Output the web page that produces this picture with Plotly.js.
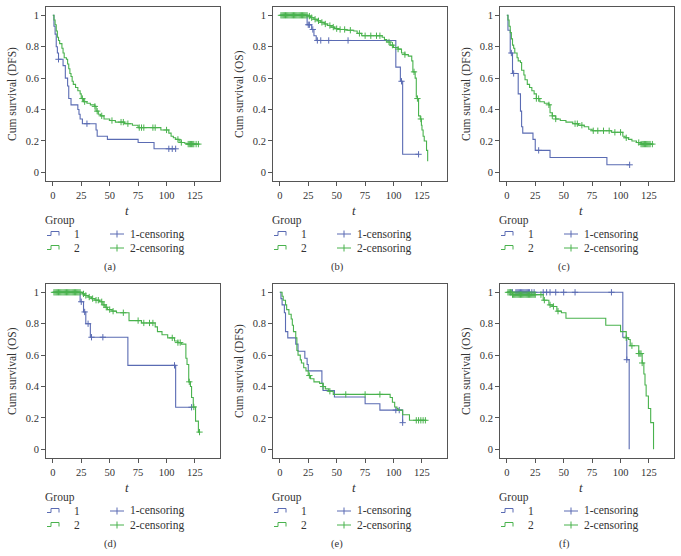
<!DOCTYPE html>
<html><head><meta charset="utf-8">
<script src="https://cdn.plot.ly/plotly-3.0.1.min.js"></script>
<style>html,body{margin:0;padding:0;background:#fff}</style>
</head><body><div id="chart" style="width:681px;height:556px"></div>
<script>
// ---------- DATA ----------
const xTicks = [0, 25, 50, 75, 100, 125];
const yTicks = [0, 0.2, 0.4, 0.6, 0.8, 1];
const groupNames = ["1", "2"];
const censorNames = ["1-censoring", "2-censoring"];
const panelLabels = ["(a)", "(b)", "(c)", "(d)", "(e)", "(f)"];
const yTitles = ["Cum survival (DFS)", "Cum survival (OS)", "Cum survival (DFS)",
                 "Cum survival (OS)", "Cum survival (DFS)", "Cum survival (OS)"];

// panel (a)
const a1_t = [0, 1, 2, 3, 4, 5, 9, 11, 13, 14, 16, 22, 23, 24, 26, 38, 39, 48, 75, 89, 108];
const a1_s = [1, 0.93, 0.88, 0.80, 0.76, 0.72, 0.68, 0.60, 0.55, 0.47, 0.43, 0.40, 0.37, 0.34, 0.31, 0.27, 0.23, 0.21, 0.19, 0.15, 0.15];
const a1_c = [5, 30, 102, 105, 108];
const a2_t = [0, 1, 2, 3, 4, 5, 6, 8, 9, 10, 12, 13, 14, 15, 16, 17, 18, 20, 22, 24, 25, 27, 30, 33, 37, 38, 40, 42, 45, 50, 55, 63, 70, 75, 95, 102, 104, 106, 108, 111, 113, 116, 118, 129];
const a2_s = [1, 0.97, 0.94, 0.90, 0.86, 0.84, 0.82, 0.79, 0.76, 0.73, 0.72, 0.69, 0.66, 0.63, 0.61, 0.58, 0.56, 0.54, 0.52, 0.50, 0.47, 0.45, 0.44, 0.43, 0.42, 0.39, 0.37, 0.36, 0.34, 0.33, 0.32, 0.31, 0.30, 0.285, 0.27, 0.25, 0.23, 0.22, 0.21, 0.20, 0.19, 0.185, 0.18, 0.18];
const a2_c = [26, 28, 37, 39, 43, 52, 60, 62, 66, 76, 78, 80, 88, 90, 100, 110, 113, 119, 120, 121, 122, 123, 124, 126, 128];

// panel (b)
const b1_t = [0, 24, 28, 30, 32, 102, 106, 108, 122];
const b1_s = [1, 0.94, 0.91, 0.87, 0.84, 0.67, 0.58, 0.115, 0.115];
const b1_c = [25, 26, 29, 33, 36, 43, 60, 107, 122];
const b2_t = [0, 25, 27, 30, 33, 36, 39, 42, 45, 48, 52, 58, 65, 68, 72, 90, 92, 94, 97, 100, 104, 107, 110, 113, 116, 117, 119, 120, 121, 122, 123.5, 124.5, 125, 126, 127, 129, 130];
const b2_s = [1, 0.995, 0.985, 0.975, 0.965, 0.955, 0.945, 0.935, 0.925, 0.915, 0.91, 0.905, 0.90, 0.885, 0.87, 0.86, 0.845, 0.83, 0.81, 0.795, 0.785, 0.76, 0.75, 0.74, 0.71, 0.64, 0.60, 0.48, 0.47, 0.36, 0.34, 0.30, 0.27, 0.23, 0.20, 0.14, 0.07];
const b2_c = [1, 2, 3, 4, 5, 6, 7, 8, 9, 10, 11, 12, 13, 14, 15, 16, 17, 18, 19, 20, 21, 22, 23, 24, 26, 28, 31, 34, 37, 40, 44, 47, 50, 53, 57, 62, 70, 75, 80, 85, 88, 96, 99, 104, 110, 118, 121, 124];

// panel (c)
const c1_t = [0, 1, 3, 5, 10, 12, 13, 14, 23, 25, 38, 88, 108];
const c1_s = [1, 0.905, 0.76, 0.63, 0.50, 0.39, 0.29, 0.25, 0.21, 0.14, 0.095, 0.048, 0.048];
const c1_c = [4, 6, 28, 108];
const c2_t = [0, 1, 2, 3, 4, 5, 6, 7, 9, 10, 12, 13, 15, 16, 18, 20, 22, 24, 26, 29, 33, 37, 38, 40, 43, 47, 52, 58, 63, 68, 72, 75, 92, 102, 104, 107, 110, 114, 118, 129];
const c2_s = [1, 0.97, 0.93, 0.89, 0.85, 0.81, 0.79, 0.76, 0.73, 0.71, 0.70, 0.65, 0.62, 0.59, 0.56, 0.54, 0.52, 0.50, 0.47, 0.45, 0.44, 0.43, 0.38, 0.36, 0.34, 0.33, 0.32, 0.31, 0.30, 0.29, 0.275, 0.265, 0.255, 0.23, 0.22, 0.21, 0.20, 0.19, 0.18, 0.18];
const c2_c = [26, 28, 37, 40, 43, 60, 62, 66, 76, 80, 85, 90, 95, 100, 105, 116, 118, 119, 120, 121, 122, 123, 124, 125, 126, 128];

// panel (d)
const d1_t = [0, 24, 27, 29, 33, 66, 108, 122];
const d1_s = [1, 0.94, 0.875, 0.80, 0.714, 0.535, 0.268, 0.268];
const d1_c = [25, 28, 31, 34, 44, 107, 122];
const d2_t = [0, 26, 28, 31, 34, 37, 41, 44, 46, 48, 52, 56, 67, 78, 90, 92, 96, 101, 107, 110, 113, 117, 118, 119.5, 121, 122, 123.5, 125.5, 128, 129.5];
const d2_s = [1, 0.99, 0.98, 0.97, 0.96, 0.95, 0.94, 0.92, 0.905, 0.89, 0.88, 0.87, 0.82, 0.805, 0.78, 0.75, 0.73, 0.71, 0.69, 0.68, 0.67, 0.58, 0.54, 0.43, 0.40, 0.33, 0.27, 0.18, 0.11, 0.11];
const d2_c = [1, 2, 3, 4, 5, 6, 7, 8, 9, 10, 11, 12, 13, 14, 15, 16, 17, 18, 19, 20, 21, 22, 23, 24, 27, 29, 32, 35, 38, 40, 43, 45, 47, 50, 53, 62, 75, 80, 85, 88, 105, 110, 112, 120, 124, 129];

// panel (e)
const e1_t = [0, 1, 2, 4, 5, 7, 14, 16, 22, 24, 25, 37, 38, 48, 75, 88, 108];
const e1_s = [1, 0.96, 0.92, 0.87, 0.75, 0.71, 0.67, 0.625, 0.58, 0.54, 0.50, 0.42, 0.375, 0.333, 0.29, 0.25, 0.17];
const e1_c = [102, 105, 108];
const e2_t = [0, 2, 3, 5, 6, 8, 10, 11, 12, 14, 15, 16, 18, 19, 21, 23, 25, 27, 30, 35, 38, 40, 43, 47, 97, 99, 101, 103, 104, 108, 114, 129];
const e2_s = [1, 0.975, 0.95, 0.92, 0.89, 0.86, 0.83, 0.79, 0.75, 0.71, 0.63, 0.60, 0.57, 0.55, 0.52, 0.50, 0.47, 0.45, 0.43, 0.42, 0.40, 0.385, 0.37, 0.35, 0.33, 0.30, 0.27, 0.26, 0.25, 0.22, 0.185, 0.185];
const e2_c = [26, 38, 44, 58, 75, 88, 120, 122, 124, 126, 128];

// panel (f)
const f1_t = [0, 102, 105.5, 107.6];
const f1_s = [1, 0.714, 0.571, 0];
const f1_c = [3, 5, 8, 9, 10, 11, 12, 13, 14, 15, 16, 17, 18, 19, 20, 22, 24, 32, 35, 38, 43, 50, 60, 92, 105.5];
const f2_t = [0, 5, 32, 37, 40, 44, 48, 52, 87, 100, 105, 107, 108.5, 116, 119, 120.5, 121.5, 122.5, 124.5, 126.5, 129];
const f2_s = [1, 0.985, 0.95, 0.92, 0.91, 0.88, 0.87, 0.835, 0.79, 0.75, 0.71, 0.70, 0.66, 0.61, 0.55, 0.48, 0.41, 0.34, 0.26, 0.17, 0];
const f2_c = [1, 2, 3, 4, 5, 6, 7, 8, 9, 10, 11, 12, 13, 14, 15, 16, 17, 18, 19, 20, 21, 22, 23, 24, 25, 30, 33, 38, 41, 45, 105, 110, 116, 117, 118, 119];

// ---------- STYLE / LAYOUT ----------
const W = 681, H = 556;
const BLUE = "#5a6bb3", GREEN = "#49b24d", TXT = "#333333", AX = "#555555";
const FONT = "Liberation Serif, Times New Roman, serif";
const series = [
  [[a1_t, a1_s, a1_c], [a2_t, a2_s, a2_c]],
  [[b1_t, b1_s, b1_c], [b2_t, b2_s, b2_c]],
  [[c1_t, c1_s, c1_c], [c2_t, c2_s, c2_c]],
  [[d1_t, d1_s, d1_c], [d2_t, d2_s, d2_c]],
  [[e1_t, e1_s, e1_c], [e2_t, e2_s, e2_c]],
  [[f1_t, f1_s, f1_c], [f2_t, f2_s, f2_c]]
];
const colors = [BLUE, GREEN];
const lefts = [46, 273, 500];
const tops = [7, 284];
const FW = 174, FH = 174;

const px = x => x / W;
const py = y => 1 - y / H;
function stepAt(t, ts, ss) {
  let v = ss[0];
  for (let i = 0; i < ts.length; i++) { if (ts[i] <= t) v = ss[i]; }
  return v;
}

const traces = [];
const layout = {
  width: W, height: H, margin: {l: 0, r: 0, t: 0, b: 0},
  paper_bgcolor: "#fff", plot_bgcolor: "#fff", showlegend: false,
  font: {family: FONT, color: TXT, size: 11},
  annotations: [], shapes: []
};

for (let p = 0; p < 6; p++) {
  const L = lefts[p % 3], T = tops[Math.floor(p / 3)];
  const n = p === 0 ? "" : String(p + 1);
  const xa = "xaxis" + n, ya = "yaxis" + n;
  const common = {
    showline: true, mirror: true, linecolor: AX, linewidth: 1,
    ticks: "outside", ticklen: 4, tickcolor: AX, tickwidth: 1,
    showgrid: false, zeroline: false, fixedrange: true,
    tickfont: {family: FONT, size: 10.5, color: TXT}
  };
  layout[xa] = Object.assign({}, common, {
    domain: [px(L), px(L + FW)], range: [-6, 147], tickvals: xTicks,
    anchor: "y" + n
  });
  layout[ya] = Object.assign({}, common, {
    domain: [py(T + FH), py(T)], range: [-0.055, 1.053], tickvals: yTicks,
    ticktext: yTicks.map(v => String(v)), anchor: "x" + n
  });
  for (let g = 0; g < 2; g++) {
    const [ts, ss, cs] = series[p][g];
    traces.push({x: ts, y: ss, xaxis: "x" + n, yaxis: "y" + n, type: "scatter",
      mode: "lines", line: {shape: "hv", color: colors[g], width: 1.1}, hoverinfo: "skip"});
    traces.push({x: cs, y: cs.map(t => stepAt(t, ts, ss)), xaxis: "x" + n, yaxis: "y" + n,
      type: "scatter", mode: "markers", hoverinfo: "skip",
      marker: {symbol: "cross-thin", size: 4.5, color: colors[g], line: {width: 1, color: colors[g]}}});
  }
  // y title
  layout.annotations.push({xref: "paper", yref: "paper", x: px(L - 34), y: py(T + FH / 2),
    text: yTitles[p], textangle: -90, showarrow: false, xanchor: "center", yanchor: "middle",
    font: {family: FONT, size: 11.5, color: TXT}});
  // x title
  layout.annotations.push({xref: "paper", yref: "paper", x: px(L + 81), y: py(T + 203),
    text: "<i>t</i>", showarrow: false, xanchor: "center", yanchor: "middle",
    font: {family: FONT, size: 13, color: TXT}});
  // caption
  layout.annotations.push({xref: "paper", yref: "paper", x: px(L + 64), y: py(T + 260),
    text: panelLabels[p], showarrow: false, xanchor: "center", yanchor: "middle",
    font: {family: FONT, size: 10.5, color: TXT}});
  // legend
  const gy = T + 213;
  layout.annotations.push({xref: "paper", yref: "paper", x: px(L - 3), y: py(gy),
    text: "Group", showarrow: false, xanchor: "left", yanchor: "middle",
    font: {family: FONT, size: 11.5, color: TXT}});
  for (let g = 0; g < 2; g++) {
    const ry = T + 227 + g * 14;
    const x0 = L + 1;
    layout.shapes.push({type: "path", xref: "paper", yref: "paper",
      path: `M ${px(x0)} ${py(ry + 1.5)} L ${px(x0 + 4)} ${py(ry + 1.5)} L ${px(x0 + 4)} ${py(ry - 2.5)} L ${px(x0 + 12)} ${py(ry - 2.5)} L ${px(x0 + 12)} ${py(ry + 1.5)}`,
      line: {color: colors[g], width: 1}});
    layout.annotations.push({xref: "paper", yref: "paper", x: px(L + 26), y: py(ry),
      text: groupNames[g], showarrow: false, xanchor: "left", yanchor: "middle",
      font: {family: FONT, size: 11.5, color: TXT}});
    layout.shapes.push({type: "line", xref: "paper", yref: "paper",
      x0: px(L + 64), x1: px(L + 78), y0: py(ry), y1: py(ry), line: {color: colors[g], width: 1}});
    layout.shapes.push({type: "line", xref: "paper", yref: "paper",
      x0: px(L + 71), x1: px(L + 71), y0: py(ry - 3.5), y1: py(ry + 3.5), line: {color: colors[g], width: 1}});
    layout.annotations.push({xref: "paper", yref: "paper", x: px(L + 82), y: py(ry),
      text: censorNames[g], showarrow: false, xanchor: "left", yanchor: "middle",
      font: {family: FONT, size: 11.5, color: TXT}});
  }
}

Plotly.newPlot("chart", traces, layout, {staticPlot: true, displayModeBar: false});
</script></body></html>
